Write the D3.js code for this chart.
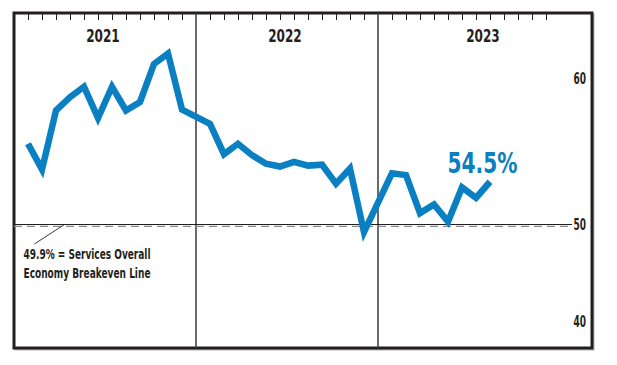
<!DOCTYPE html>
<html>
<head>
<meta charset="utf-8">
<script src="https://cdn.jsdelivr.net/npm/d3@7"></script>
<style>
  body { margin: 0; background: #fff; }
  text { font-family: "Liberation Sans Narrow", "DejaVu Sans Condensed", "Arial Narrow", sans-serif; fill: #231f20; }
</style>
</head>
<body>
<div id="chart"></div>
<script>
// data (services PMI, %)
const years = ["2021", "2022", "2023"];
const pmi2021 = [58.5, 55.8, 62.0, 63.4, 64.5, 61.2, 64.5, 62.0, 62.9, 66.9, 68.0, 62.1];
const pmi2022 = [60.6, 57.4, 58.5, 57.3, 56.4, 56.1, 56.6, 56.2, 56.3, 54.3, 55.9, 49.2];
const pmi2023 = [55.4, 55.2, 51.2, 52.1, 50.3, 53.9, 52.8, 54.5];
const breakeven = 50;
// right-hand labels, and where they sit in data units on the printed chart
const yLabels = ["40", "50", "60"];
const yLabelAt = [39.8, 50, 65.4];
const lastLabel = "54.5%";
const noteLines = ["49.9% = Services Overall", "Economy Breakeven Line"];

// each year is 13 slots wide, months sit on slots 1..12
const series = [pmi2021, pmi2022, pmi2023].flatMap((vals, yi) =>
  vals.map((v, m) => ({slot: yi * 13 + m + 1, value: v})));

// set the dimensions of the frame
const width = 617, height = 365;
const frame = {left: 14, right: 592, top: 13, bottom: 348};

const svg = d3.select("#chart")
  .append("svg")
  .attr("width", width)
  .attr("height", height);

const x = d3.scaleLinear()
  .domain([0, 39])
  .range([frame.left, frame.left + 39 * 14]);

const y = d3.scaleLinear()
  .domain([40, 50])
  .range([319.5, 224.5]);

const blue = "#0a7fc1";
const ink = "#231f20";

// shadow + frame
svg.append("rect")
  .attr("x", frame.left + 1.5)
  .attr("y", frame.top + 1.5)
  .attr("width", frame.right - frame.left)
  .attr("height", frame.bottom - frame.top)
  .attr("fill", "none")
  .attr("stroke", "#b5b5b5")
  .attr("stroke-width", 2);

svg.append("rect")
  .attr("x", frame.left)
  .attr("y", frame.top)
  .attr("width", frame.right - frame.left)
  .attr("height", frame.bottom - frame.top)
  .attr("fill", "#fff")
  .attr("stroke", ink)
  .attr("stroke-width", 3);

// month ticks along the top
const monthSlots = d3.range(3).flatMap(yi => d3.range(1, 13).map(m => yi * 13 + m));
svg.append("g")
  .attr("transform", `translate(0, ${frame.top})`)
  .call(d3.axisBottom(x).tickValues(monthSlots).tickSize(7).tickFormat(""))
  .call(g => g.select(".domain").remove())
  .call(g => g.selectAll("line").attr("stroke", ink).attr("stroke-width", 1));

// year dividers
svg.selectAll(".divider")
  .data([13, 26])
  .enter()
  .append("line")
  .attr("class", "divider")
  .attr("x1", d => x(d))
  .attr("x2", d => x(d))
  .attr("y1", frame.top)
  .attr("y2", frame.bottom)
  .style("stroke", "#3a3a3a")
  .style("stroke-width", 1.5);

// year labels, centred in each section
const sectionEdges = [frame.left, x(13), x(26), frame.right];
svg.selectAll(".year")
  .data(years)
  .enter()
  .append("text")
  .attr("class", "year")
  .attr("x", (d, i) => (sectionEdges[i] + sectionEdges[i + 1]) / 2 - 2)
  .attr("y", 42.3)
  .attr("text-anchor", "middle")
  .attr("font-size", 18)
  .attr("font-weight", "bold")
  .attr("textLength", 33.5)
  .attr("lengthAdjust", "spacingAndGlyphs")
  .text(d => d);

// breakeven line: dashed grey under a thin solid rule
svg.append("line")
  .attr("x1", frame.left)
  .attr("x2", 572)
  .attr("y1", y(breakeven) + 1.8)
  .attr("y2", y(breakeven) + 1.8)
  .style("stroke", "#8a8a8a")
  .style("stroke-width", 1.3)
  .style("stroke-dasharray", "8, 5");

svg.append("line")
  .attr("x1", frame.left)
  .attr("x2", 572)
  .attr("y1", y(breakeven))
  .attr("y2", y(breakeven))
  .style("stroke", ink)
  .style("stroke-width", 1.1);

// right-hand value labels
const labelY = d3.scaleLinear()
  .domain([40, 50, 60])
  .range(yLabelAt.map(v => y(v)));

svg.append("g")
  .attr("transform", "translate(586, 0)")
  .call(d3.axisLeft(labelY).tickValues([40, 50, 60]).tickSize(0).tickPadding(0)
    .tickFormat((d, i) => yLabels[i]))
  .call(g => g.select(".domain").remove())
  .call(g => g.selectAll("text")
    .attr("font-size", 15)
    .attr("font-weight", "bold")
    .attr("textLength", 12.5)
    .attr("lengthAdjust", "spacingAndGlyphs")
    .style("fill", ink));

// the PMI line
const line = d3.line()
  .x(d => x(d.slot))
  .y(d => y(d.value));

svg.append("path")
  .datum(series)
  .attr("d", line)
  .attr("fill", "none")
  .attr("stroke", blue)
  .attr("stroke-width", 6.5)
  .attr("stroke-linejoin", "miter")
  .attr("stroke-miterlimit", 6);

// latest value callout
const last = series[series.length - 1];
svg.append("text")
  .attr("x", x(last.slot) - 7.5)
  .attr("y", y(last.value) - 8.5)
  .attr("text-anchor", "middle")
  .attr("font-size", 28)
  .attr("font-weight", "bold")
  .attr("textLength", 70)
  .attr("lengthAdjust", "spacingAndGlyphs")
  .style("fill", blue)
  .text(lastLabel);

// breakeven note with leader
const noteAnchor = {slot: 3.6, value: breakeven};
svg.append("line")
  .attr("x1", x(noteAnchor.slot))
  .attr("y1", y(noteAnchor.value))
  .attr("x2", x(noteAnchor.slot) - 30)
  .attr("y2", y(noteAnchor.value) + 19.5)
  .style("stroke", ink)
  .style("stroke-width", 0.9);

svg.selectAll(".note")
  .data(noteLines)
  .enter()
  .append("text")
  .attr("class", "note")
  .attr("x", 23.5)
  .attr("y", (d, i) => 259.3 + i * 18.4)
  .attr("font-size", 14)
  .attr("font-weight", "bold")
  .attr("textLength", 127)
  .attr("lengthAdjust", "spacingAndGlyphs")
  .text(d => d);
</script>
</body>
</html>
